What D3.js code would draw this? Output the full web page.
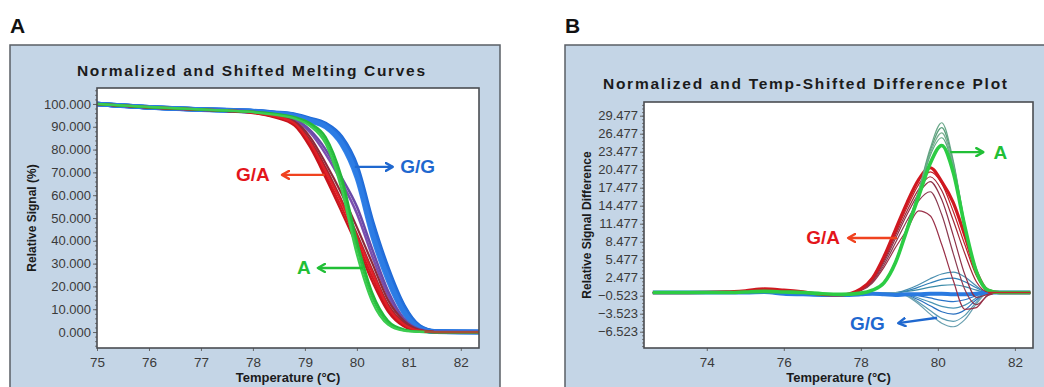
<!DOCTYPE html>
<html>
<head>
<meta charset="utf-8">
<script src="https://cdn.jsdelivr.net/npm/d3@7"></script>
<style>
  body { margin: 0; background: #fff; }
  svg { display: block; font-family: "Liberation Sans", Arial, sans-serif; }
</style>
</head>
<body>
<svg id="chart" width="1044" height="387"></svg>
<script>
// ---------- panel A : normalized melting curves ----------
const tempA = [75, 76, 77, 77.5, 78, 78.4, 78.8, 79.1, 79.4, 79.7, 80.0, 80.3, 80.6, 80.9, 81.2, 81.5, 82.35];

const meltBlue = [
  [100, 98.6, 97.6, 97.2, 96.8, 96.0, 95.0, 93.0, 90.5, 84.0, 70.0, 45.0, 25.0, 10.0, 2.0, 0.2, 0],
  [100, 98.5, 97.6, 97.3, 96.9, 96.2, 95.3, 93.5, 91.2, 85.5, 72.5, 48.0, 27.5, 11.5, 2.6, 0.3, 0],
  [100, 98.6, 97.5, 97.1, 96.7, 95.8, 94.7, 92.5, 89.8, 82.5, 67.5, 42.0, 22.5, 8.5, 1.6, 0.1, 0],
  [100, 98.5, 97.6, 97.2, 96.8, 96.1, 95.1, 93.2, 90.8, 84.8, 71.0, 46.5, 26.0, 10.8, 2.3, 0.2, 0],
  [100, 98.6, 97.6, 97.2, 96.8, 95.9, 94.9, 92.8, 90.2, 83.3, 68.8, 43.5, 24.0, 9.2, 1.8, 0.1, 0]
];
const meltPurple = [
  [100, 98.5, 97.5, 97.1, 96.5, 95.3, 93.0, 87.5, 78.0, 66.0, 52.0, 33.0, 16.0, 5.0, 1.0, 0, 0],
  [100, 98.6, 97.6, 97.2, 96.6, 95.5, 93.5, 88.5, 80.0, 68.0, 55.0, 36.0, 18.0, 6.0, 1.2, 0.1, 0]
];
const meltRed = [
  [100, 98.5, 97.5, 97.0, 96.2, 94.5, 91.0, 82.0, 69.0, 55.0, 40.0, 24.0, 10.0, 3.0, 0.5, 0, 0],
  [100, 98.6, 97.6, 97.1, 96.3, 94.8, 91.8, 84.0, 72.0, 58.0, 43.0, 27.0, 12.0, 4.0, 0.8, 0, 0],
  [100, 98.4, 97.4, 96.9, 96.0, 94.2, 90.5, 81.0, 67.5, 53.0, 38.0, 22.0, 9.0, 2.5, 0.4, 0, 0],
  [100, 98.5, 97.5, 97.0, 96.4, 95.0, 92.3, 85.5, 74.0, 61.0, 46.0, 30.0, 14.0, 5.0, 1.0, 0, 0],
  [100, 98.6, 97.5, 97.1, 96.3, 94.7, 91.5, 83.0, 70.5, 57.0, 42.0, 26.0, 11.0, 3.5, 0.6, 0, 0]
];
const meltGreen = [
  [100, 98.6, 97.6, 97.1, 96.5, 95.6, 94.0, 91.0, 84.0, 66.0, 37.0, 15.0, 4.0, 0.8, 0.1, 0, 0],
  [100, 98.5, 97.5, 97.0, 96.6, 95.8, 94.3, 91.6, 85.5, 68.5, 40.0, 17.0, 5.0, 1.2, 0.2, 0, 0],
  [100, 98.7, 97.6, 97.2, 96.4, 95.3, 93.6, 90.3, 82.5, 63.0, 34.0, 13.0, 3.2, 0.6, 0.1, 0, 0]
];
// the flat red trace left once every sample has melted
const tempTail = [81.3, 82.35];
const meltTail = [[0, 0]];

const xTicksA = [75, 76, 77, 78, 79, 80, 81, 82];
const yTicksA = [0, 10, 20, 30, 40, 50, 60, 70, 80, 90, 100];

// ---------- panel B : temp-shifted difference plot ----------
const tempB = [72.6, 73.5, 74.5, 75, 75.5, 76, 76.5, 77, 77.5, 78, 78.3, 78.6, 78.9, 79.2, 79.5, 79.8, 80.1, 80.4, 80.7, 81.0, 81.3, 81.6, 82.4];

const diffBlueThin = [
  [0, 0, 0, 0, 0.1, -0.2, -0.3, -0.4, -0.4, -0.2, 0, 0, 0, 0.5, 1.3, 2.3, 3.1, 3.4, 2.6, 1.1, 0, 0, 0],
  [0, 0, 0, 0, 0.1, -0.2, -0.3, -0.4, -0.4, -0.2, 0, 0, 0, 0.3, 0.9, 1.6, 2.2, 2.4, 1.8, 0.8, 0, 0, 0],
  [0, 0, 0, 0, 0.1, -0.2, -0.3, -0.4, -0.4, -0.2, 0, 0, 0, 0.2, 0.5, 0.9, 1.2, 1.3, 1.0, 0.4, 0, 0, 0],
  [0, 0, 0, 0, 0.1, -0.2, -0.3, -0.4, -0.4, -0.2, 0, 0, 0, -0.2, -0.5, -0.9, -1.3, -1.5, -1.2, -0.5, 0, 0, 0],
  [0, 0, 0, 0, 0.1, -0.2, -0.3, -0.4, -0.4, -0.2, 0, 0, 0, -0.3, -0.9, -1.6, -2.3, -2.6, -2.1, -0.9, 0, 0, 0],
  [0, 0, 0, 0, 0.1, -0.2, -0.3, -0.4, -0.4, -0.2, 0, 0, 0, -0.4, -1.2, -2.2, -3.2, -3.6, -2.9, -1.2, 0, 0, 0],
  [0, 0, 0, 0, 0.1, -0.2, -0.3, -0.4, -0.4, -0.2, 0, 0, 0, -0.5, -1.6, -3.0, -4.3, -4.8, -3.8, -1.6, 0, 0, 0],
  [0, 0, 0, 0, 0.1, -0.2, -0.3, -0.4, -0.4, -0.2, 0, 0, 0, -0.6, -1.9, -3.6, -5.1, -5.7, -4.5, -1.9, 0, 0, 0]
];
const diffBlueThick = [
  [0, 0, 0, 0, 0.1, -0.2, -0.3, -0.4, -0.4, -0.3, -0.2, -0.3, -0.4, -0.3, -0.3, -0.2, -0.2, -0.3, -0.3, -0.2, 0, 0, 0]
];
const diffRedThin = [
  [0, 0, 0.1, 0.2, 0.5, 0.3, 0.1, -0.3, -0.4, 0.5, 2.2, 5.6, 9.9, 14.2, 18.0, 20.1, 18.2, 13.5, 8.0, 2.8, 0.3, 0, 0],
  [0, 0, 0.1, 0.2, 0.5, 0.3, 0.1, -0.3, -0.4, 0.5, 2.1, 5.3, 9.5, 13.6, 17.2, 19.3, 17.0, 12.0, 6.5, 1.8, 0.1, 0, 0],
  [0, 0, 0.1, 0.2, 0.5, 0.3, 0.1, -0.3, -0.4, 0.4, 1.9, 5.0, 9.0, 13.0, 16.5, 18.5, 15.5, 9.5, 3.0, -0.8, -0.3, 0, 0],
  [0, 0, 0.1, 0.2, 0.5, 0.3, 0.1, -0.3, -0.4, 0.4, 1.8, 4.6, 8.3, 12.0, 15.3, 16.8, 13.0, 6.5, 0.5, -2.0, -0.5, 0, 0],
  [0, 0, 0.1, 0.2, 0.5, 0.3, 0.1, -0.3, -0.4, 0.3, 1.6, 4.2, 7.5, 10.5, 13.6, 12.8, 8.0, 2.0, -2.8, -2.5, -0.4, 0, 0]
];
const diffRedThick = [
  [0, 0, 0.1, 0.3, 0.6, 0.4, 0.1, -0.3, -0.4, 0.6, 2.4, 6.0, 10.5, 15.0, 18.8, 20.8, 18.5, 15.0, 9.5, 3.5, 0.4, 0, 0]
];
const diffGreenThin = [
  [0, 0, 0, 0.1, 0.2, 0.1, 0, -0.2, -0.3, -0.1, 0.4, 1.7, 5.3, 11.0, 17.0, 24.0, 28.3, 22.0, 11.5, 3.6, 0.4, 0, 0],
  [0, 0, 0, 0.1, 0.2, 0.1, 0, -0.2, -0.3, -0.1, 0.4, 1.7, 5.2, 10.9, 16.8, 23.6, 27.5, 21.6, 11.3, 3.5, 0.4, 0, 0],
  [0, 0, 0, 0.1, 0.2, 0.1, 0, -0.2, -0.3, -0.1, 0.4, 1.6, 5.1, 10.7, 16.5, 23.2, 26.6, 21.2, 11.1, 3.5, 0.4, 0, 0],
  [0, 0, 0, 0.1, 0.2, 0.1, 0, -0.2, -0.3, -0.1, 0.4, 1.6, 5.0, 10.6, 16.3, 22.8, 25.8, 20.8, 10.9, 3.4, 0.4, 0, 0]
];
const diffGreenThick = [
  [0, 0, 0, 0.1, 0.2, 0.1, 0, -0.2, -0.3, -0.1, 0.4, 1.6, 5.0, 10.5, 16.0, 21.5, 24.5, 20.0, 11.0, 3.5, 0.4, 0, 0]
];
const tempTailB = [81.3, 82.4];
const diffTail = [[0, 0]];

const xTicksB = [74, 76, 78, 80, 82];
const yTicksB = [-6.523, -3.523, -0.523, 2.477, 5.477, 8.477, 11.477, 14.477, 17.477, 20.477, 23.477, 26.477, 29.477];

// call-outs, in data units
const labelsA = [
  { text: "G/A", color: "#e3151b", arrow: "#f0421f", tx: 78.0, ty: 68.9, from: [79.38, 68.9], to: [78.56, 68.9] },
  { text: "G/G", color: "#1f68cf", arrow: "#1f68cf", tx: 81.17, ty: 72.4, from: [79.96, 72.4], to: [80.69, 72.4] },
  { text: "A", color: "#21bf36", arrow: "#21bf36", tx: 78.98, ty: 28.1, from: [80.12, 28.1], to: [79.25, 28.1] }
];
const labelsB = [
  { text: "A", color: "#21bf36", arrow: "#21bf36", tx: 81.62, ty: 23.4, from: [80.32, 23.4], to: [81.18, 23.4] },
  { text: "G/A", color: "#e3151b", arrow: "#f0421f", tx: 77.02, ty: 9.1, from: [78.94, 9.1], to: [77.67, 9.1] },
  { text: "G/G", color: "#1f68cf", arrow: "#1f68cf", tx: 78.17, ty: -5.1, from: [79.98, -4.2], to: [78.97, -5.1] }
];

// ---------- drawing ----------
const svg = d3.select("#chart");
const defs = svg.append("defs");
["#f0421f", "#1f68cf", "#21bf36"].forEach(c => {
  defs.append("marker")
    .attr("id", "arr" + c.slice(1))
    .attr("viewBox", "0 0 10 10")
    .attr("refX", 8).attr("refY", 5)
    .attr("markerWidth", 10).attr("markerHeight", 10)
    .attr("markerUnits", "userSpaceOnUse")
    .attr("orient", "auto")
    .append("path")
    .attr("d", "M1,1 L8,5 L1,9")
    .attr("fill", "none")
    .attr("stroke", c)
    .attr("stroke-width", 2.4)
    .attr("stroke-linecap", "round")
    .attr("stroke-linejoin", "round");
});

function drawPanel(p) {
  const g = svg.append("g");

  g.append("rect")
    .attr("x", p.frame.x).attr("y", p.frame.y)
    .attr("width", p.frame.w).attr("height", p.frame.h)
    .attr("fill", "#c4d5e6")
    .attr("stroke", "#5a5f66")
    .attr("stroke-width", 1.5);

  g.append("text")
    .attr("x", p.frame.x).attr("y", 33)
    .attr("font-size", 21).attr("font-weight", "bold")
    .attr("fill", "#111")
    .text(p.letter);

  const x = d3.scaleLinear().domain(p.xDomain).range([p.plot.left, p.plot.right]);
  const y = d3.scaleLinear().domain(p.yDomain).range([p.plot.bottom, p.plot.top]);

  g.append("rect")
    .attr("x", p.plot.left).attr("y", p.plot.top)
    .attr("width", p.plot.right - p.plot.left)
    .attr("height", p.plot.bottom - p.plot.top)
    .attr("fill", "#fff");

  // title
  g.append("text")
    .attr("x", p.titleX - p.titleW / 2).attr("y", p.titleY)
    .attr("font-size", 15.5).attr("font-weight", "bold")
    .attr("fill", "#1b1b1b")
    .attr("textLength", p.titleW)
    .attr("lengthAdjust", "spacing")
    .text(p.title);

  // minor y ticks
  const yStep = p.yTicks[1] - p.yTicks[0];
  const minor = d3.range(p.yTicks[0] - yStep, p.yDomain[1], yStep / 5)
    .filter(v => v > p.yDomain[0] && v < p.yDomain[1]);
  g.append("g")
    .attr("transform", `translate(${p.plot.left},0)`)
    .call(d3.axisLeft(y).tickValues(minor).tickSize(2).tickFormat(""))
    .call(a => a.select(".domain").remove())
    .selectAll("line").attr("stroke", "#777");

  // y axis
  const yAxis = g.append("g")
    .attr("transform", `translate(${p.plot.left},0)`)
    .call(d3.axisLeft(y).tickValues(p.yTicks).tickSize(4).tickPadding(2).tickFormat(d3.format(".3f")));
  yAxis.select(".domain").remove();
  yAxis.selectAll("line").attr("stroke", "#666");
  yAxis.selectAll("text")
    .attr("font-size", 13).attr("fill", "#3a3a3a")
    .attr("font-family", "Liberation Sans, Arial, sans-serif");

  // x axis
  const xAxis = g.append("g")
    .attr("transform", `translate(0,${p.plot.bottom})`)
    .call(d3.axisBottom(x).tickValues(p.xTicks).tickSize(3).tickPadding(6).tickFormat(d3.format("d")));
  xAxis.select(".domain").remove();
  xAxis.selectAll("line").attr("stroke", "#666");
  xAxis.selectAll("text")
    .attr("font-size", 13.5).attr("fill", "#3a3a3a")
    .attr("font-family", "Liberation Sans, Arial, sans-serif");

  // axis titles
  g.append("text")
    .attr("x", (p.plot.left + p.plot.right) / 2).attr("y", 382)
    .attr("text-anchor", "middle")
    .attr("font-size", 13).attr("font-weight", "bold").attr("fill", "#1b1b1b")
    .text("Temperature (\u00B0C)");

  g.append("text")
    .attr("transform", `translate(${p.yTitleX},${p.yTitleY}) rotate(-90)`)
    .attr("text-anchor", "middle")
    .attr("dominant-baseline", "central")
    .attr("font-size", 12).attr("font-weight", "bold").attr("fill", "#1b1b1b")
    .text(p.yTitle);

  // curves
  p.groups.forEach(grp => {
    const temps = grp.temps || p.temps;
    const line = d3.line()
      .x((d, i) => x(temps[i]))
      .y(d => y(d))
      .curve(d3.curveMonotoneX);
    g.append("g").selectAll("path")
      .data(grp.curves)
      .join("path")
      .attr("d", line)
      .attr("fill", "none")
      .attr("stroke", (d, i) => grp.colors[i % grp.colors.length])
      .attr("stroke-width", grp.width)
      .attr("stroke-linejoin", "round");
  });

  // plot frame
  g.append("rect")
    .attr("x", p.plot.left).attr("y", p.plot.top)
    .attr("width", p.plot.right - p.plot.left)
    .attr("height", p.plot.bottom - p.plot.top)
    .attr("fill", "none")
    .attr("stroke", "#4a4d52")
    .attr("stroke-width", 1.6);

  // call-outs
  p.labels.forEach(l => {
    g.append("line")
      .attr("x1", x(l.from[0])).attr("y1", y(l.from[1]))
      .attr("x2", x(l.to[0])).attr("y2", y(l.to[1]))
      .attr("stroke", l.arrow)
      .attr("stroke-width", 2.4)
      .attr("marker-end", `url(#arr${l.arrow.slice(1)})`);
    g.append("text")
      .attr("x", x(l.tx)).attr("y", y(l.ty))
      .attr("text-anchor", "middle")
      .attr("dominant-baseline", "central")
      .attr("font-size", 19).attr("font-weight", "bold")
      .attr("fill", l.color)
      .text(l.text);
  });
}

drawPanel({
  letter: "A",
  frame: { x: 10, y: 45, w: 490, h: 360 },
  plot: { left: 97, top: 88, right: 479, bottom: 348 },
  xDomain: [75, 82.35],
  yDomain: [-7, 107],
  xTicks: xTicksA,
  yTicks: yTicksA,
  title: "Normalized and Shifted Melting Curves",
  titleX: 251, titleY: 76, titleW: 348,
  yTitle: "Relative Signal (%)",
  yTitleX: 32, yTitleY: 218,
  temps: tempA,
  groups: [
    { curves: meltBlue, colors: ["#2a78e0", "#1f6ad6", "#3584ea", "#2470dc", "#2c7ce4"], width: 4.5 },
    { curves: meltPurple, colors: ["#7b4fae", "#6a4aa8"], width: 2.5 },
    { curves: meltRed, colors: ["#d71920", "#a8242c", "#c8141c", "#8e2a3a", "#e02028"], width: 2.2 },
    { curves: meltGreen, colors: ["#2fc444", "#24b83a", "#3ccc50"], width: 2.2 },
    { curves: meltTail, temps: tempTail, colors: ["#c8242c"], width: 1.4 }
  ],
  labels: labelsA
});

drawPanel({
  letter: "B",
  frame: { x: 565, y: 45, w: 500, h: 360 },
  plot: { left: 644, top: 102, right: 1033, bottom: 348 },
  xDomain: [72.37, 82.47],
  yDomain: [-9.24, 31.76],
  xTicks: xTicksB,
  yTicks: yTicksB,
  title: "Normalized and Temp-Shifted Difference Plot",
  titleX: 805, titleY: 89, titleW: 404,
  yTitle: "Relative Signal Difference",
  yTitleX: 587, yTitleY: 225,
  temps: tempB,
  groups: [
    { curves: diffBlueThin, colors: ["#4a8fb0", "#2f7fb8", "#3a8aa8", "#2a74c8", "#4a95b5", "#2a70c0", "#5a9ab0", "#6aa0b0"], width: 1.2 },
    { curves: diffBlueThick, colors: ["#2a7ae0"], width: 4 },
    { curves: diffRedThin, colors: ["#c0202a", "#a02838", "#8e3048", "#8a3a50", "#9a3048"], width: 1.2 },
    { curves: diffRedThick, colors: ["#d01820"], width: 3.2 },
    { curves: diffGreenThin, colors: ["#6aa88a", "#5aa07a", "#78ae90", "#60a882"], width: 1.2 },
    { curves: diffGreenThick, colors: ["#2ccc44"], width: 3.6 },
    { curves: diffTail, temps: tempTailB, colors: ["#c8242c"], width: 1.4 }
  ],
  labels: labelsB
});
</script>
</body>
</html>
